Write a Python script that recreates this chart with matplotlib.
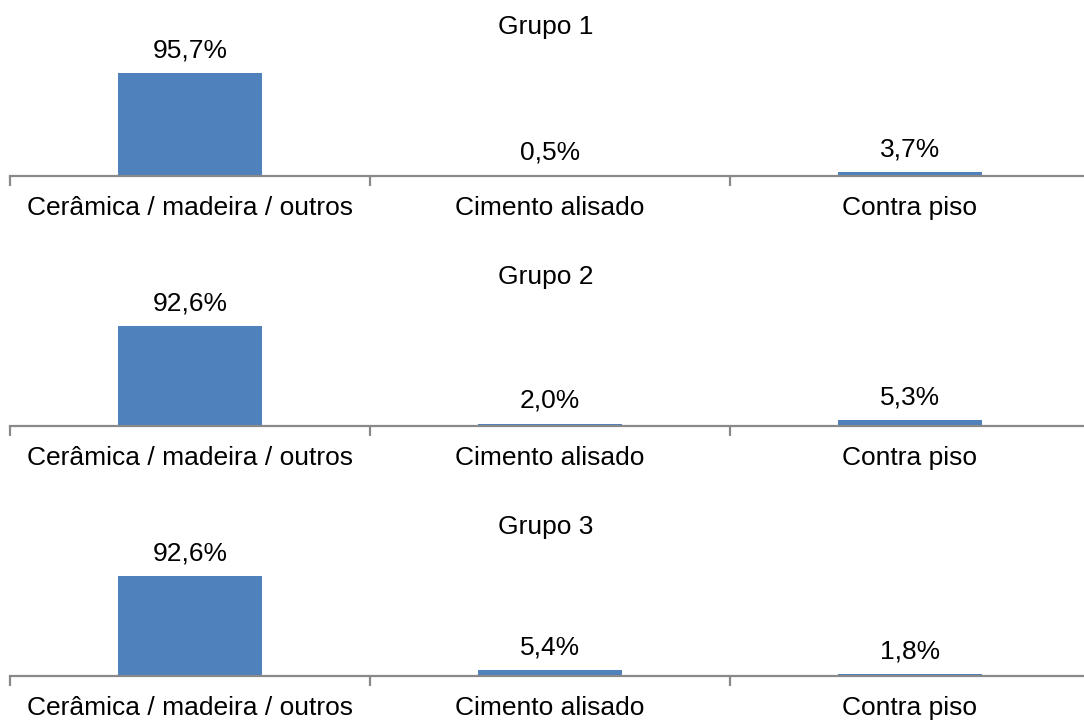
import numpy as np
import matplotlib.pyplot as plt

plt.rcParams['font.family'] = ['Liberation Sans', 'DejaVu Sans']

categorias = ['Cerâmica / madeira / outros', 'Cimento alisado', 'Contra piso']
grupos = ['Grupo 1', 'Grupo 2', 'Grupo 3']
grupo1 = [95.7, 0.5, 3.7]
grupo2 = [92.6, 2.0, 5.3]
grupo3 = [92.6, 5.4, 1.8]

W, H = 1084, 722
fig = plt.figure(figsize=(W / 100, H / 100), dpi=100)

cor_barra = '#4F81BD'
cor_eixo = '#898989'
fs = 19
eixo_y_px = [176, 426, 676]   # baseline of each panel, px from top
altura_px = 107.6             # 0..100% span
pt = 72 / 100                 # points per pixel

x = np.arange(len(categorias))
for nome, valores, base in zip(grupos, [grupo1, grupo2, grupo3], eixo_y_px):
    ax = fig.add_axes([10 / W, 1 - base / H, 1080 / W, altura_px / H])
    ax.bar(x, valores, width=0.4, color=cor_barra)
    ax.set_xlim(-0.5, 2.5)
    ax.set_ylim(0, 100)
    for s in ['top', 'right', 'left']:
        ax.spines[s].set_visible(False)
    ax.spines['bottom'].set_color(cor_eixo)
    ax.spines['bottom'].set_linewidth(1.6)
    ax.set_yticks([])
    # tick marks on the category boundaries
    ax.set_xticks([-0.5, 0.5, 1.5, 2.5])
    ax.set_xticklabels([])
    ax.tick_params(axis='x', direction='out', length=7, width=1.6,
                   color=cor_eixo)
    for xi, cat in zip(x, categorias):
        ax.annotate(cat, (xi, 0), xycoords=('data', 'axes fraction'),
                    xytext=(0, -39 * pt), textcoords='offset points',
                    ha='center', va='baseline', fontsize=fs,
                    annotation_clip=False)
    for xi, v in zip(x, valores):
        ax.annotate(f'{v:.1f}%'.replace('.', ','), (xi, v),
                    xytext=(0, 16 * pt), textcoords='offset points',
                    ha='center', va='baseline', fontsize=fs,
                    annotation_clip=False)
    fig.text(546 / W, 1 - (base - 142) / H, nome, ha='center', va='baseline',
             fontsize=fs)

fig.savefig('out.png', dpi=100)
